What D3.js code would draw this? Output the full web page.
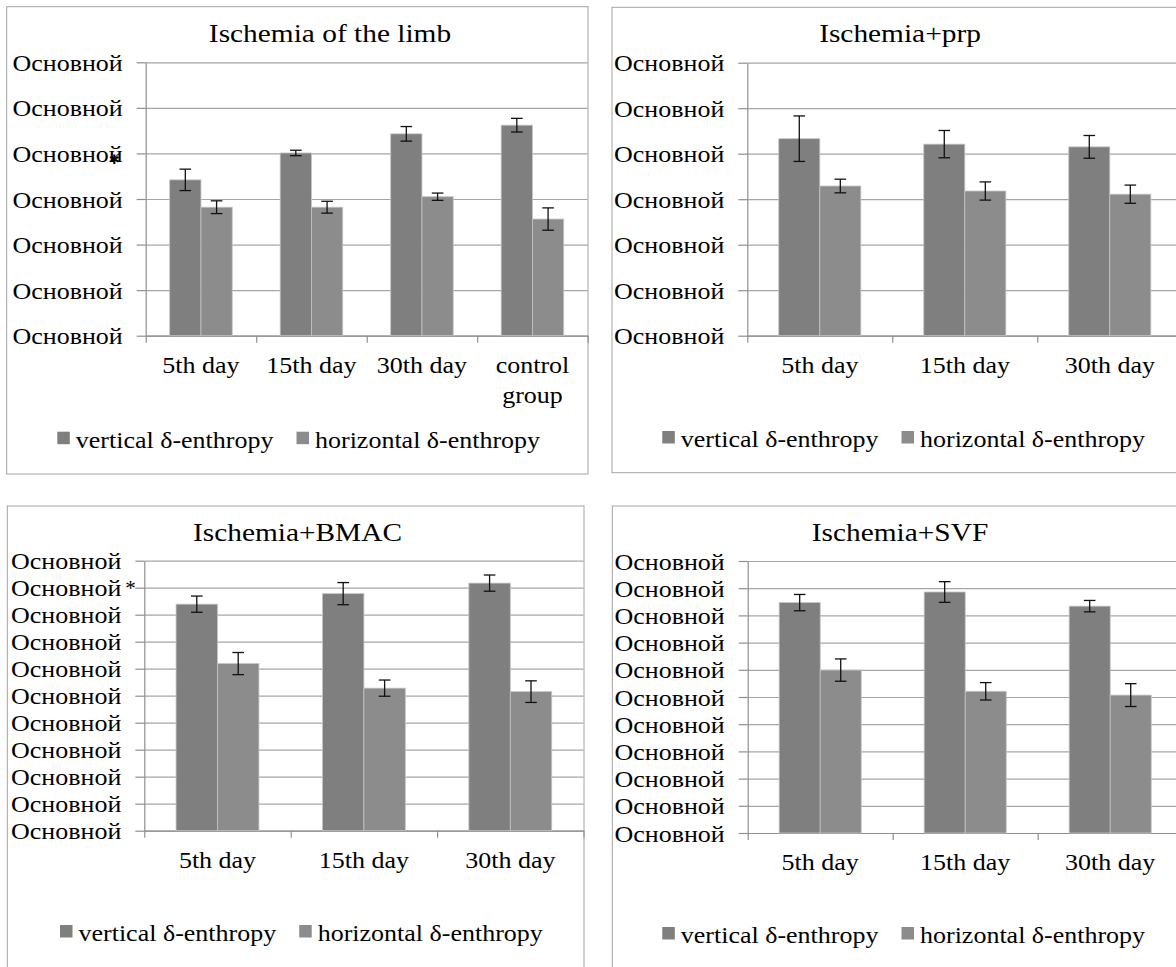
<!DOCTYPE html>
<html><head><meta charset="utf-8">
<script src="https://cdn.jsdelivr.net/npm/d3@7"></script>
<style>
body{margin:0;background:#fff}
svg{display:block}
</style>
</head><body>
<svg id="chart" width="1176" height="967"></svg>
<script>
// ---------- data ----------
const seriesNames = ["vertical δ-enthropy", "horizontal δ-enthropy"];
const yTickLabel = "Основной";
const categoriesLimb = ["5th day", "15th day", "30th day", "control group"];
const categoriesDays = ["5th day", "15th day", "30th day"];
const ticksSix = [0, 1, 2, 3, 4, 5, 6];
const ticksTen = [0, 1, 2, 3, 4, 5, 6, 7, 8, 9, 10];
const titles = ["Ischemia of the limb", "Ischemia+prp", "Ischemia+BMAC", "Ischemia+SVF"];

const limbVertical = [3.42, 4.01, 4.43, 4.62];
const limbVerticalErr = [0.235, 0.06, 0.16, 0.15];
const limbHorizontal = [2.82, 2.82, 3.05, 2.56];
const limbHorizontalErr = [0.14, 0.13, 0.08, 0.245];

const prpVertical = [4.33, 4.21, 4.15];
const prpVerticalErr = [0.5, 0.3, 0.25];
const prpHorizontal = [3.29, 3.18, 3.11];
const prpHorizontalErr = [0.15, 0.2, 0.2];

const bmacVertical = [8.39, 8.78, 9.17];
const bmacVerticalErr = [0.3, 0.41, 0.3];
const bmacHorizontal = [6.19, 5.28, 5.15];
const bmacHorizontalErr = [0.41, 0.3, 0.4];

const svfVertical = [8.47, 8.86, 8.34];
const svfVerticalErr = [0.3, 0.38, 0.21];
const svfHorizontal = [5.99, 5.21, 5.07];
const svfHorizontalErr = [0.41, 0.32, 0.42];

// ---------- style ----------
const FONT = "'Liberation Serif', 'Times New Roman', Times, 'DejaVu Serif', serif";
const SX = 1.13;             // horizontal text stretch seen in the reference
const FS = 23, TFS = 26;
const COLORS = ["#7f7f7f", "#8c8c8c"];
const GRID = "#a6a6a6", AXIS = "#8f8f8f", BORDER = "#a3a3a3";

const svg = d3.select("#chart");

const panels = [
  {title: titles[0], cats: categoriesLimb, ticks: ticksSix, vals: [limbVertical, limbHorizontal], errs: [limbVerticalErr, limbHorizontalErr],
   box: [6.7, 6.7, 588, 474], x0: 145.7, x1: 587.7, yb: 335.7, yt: 62.3, titleX: 330, titleY: 42.3, labelY: 373, legX: 57.3, legY: 447.7,
   star: {x: 114.5, y: 159, text: "✱", size: 13, font: "'DejaVu Sans'"}},
  {title: titles[1], cats: categoriesDays, ticks: ticksSix, vals: [prpVertical, prpHorizontal], errs: [prpVerticalErr, prpHorizontalErr],
   box: [612, 7.3, 1195, 472.7], x0: 747.3, x1: 1182.3, yb: 335.7, yt: 62.7, titleX: 900, titleY: 42.3, labelY: 373, legX: 662.3, legY: 447},
  {title: titles[2], cats: categoriesDays, ticks: ticksTen, vals: [bmacVertical, bmacHorizontal], errs: [bmacVerticalErr, bmacHorizontalErr],
   box: [7.3, 506, 584, 1000], x0: 144.3, x1: 583.5, yb: 830.7, yt: 560.7, titleX: 297.5, titleY: 540.7, labelY: 868, legX: 60, legY: 941,
   star: {x: 130.5, y: 595, text: "*", size: 21, font: FONT}},
  {title: titles[3], cats: categoriesDays, ticks: ticksTen, vals: [svfVertical, svfHorizontal], errs: [svfVerticalErr, svfHorizontalErr],
   box: [612.3, 506, 1195, 1000], x0: 747.7, x1: 1182.7, yb: 833, yt: 561, titleX: 900, titleY: 541, labelY: 870, legX: 662.3, legY: 943}
];

function txt(sel, size) {
  return sel.append("text").style("font-family", FONT).style("font-size", size + "px").attr("fill", "#000");
}
function measure(s, size) {
  const t = txt(svg, size).text(s);
  const w = t.node().getComputedTextLength();
  t.remove();
  return w * SX;
}

panels.forEach(p => {
  const g = svg.append("g");
  const [bx0, by0, bx1, by1] = p.box;
  g.append("rect").attr("x", bx0).attr("y", by0).attr("width", bx1 - bx0).attr("height", by1 - by0)
    .attr("fill", "#fff").attr("stroke", BORDER).attr("stroke-width", 1);

  const n = p.cats.length;
  const x = d3.scaleBand().domain(p.cats).range([p.x0, p.x1]).paddingInner(0.434).paddingOuter(0.217);
  const xs = d3.scaleBand().domain(seriesNames).range([0, x.bandwidth()]);
  const y = d3.scaleLinear().domain([0, d3.max(p.ticks)]).range([p.yb, p.yt]);
  const xb = d3.scaleLinear().domain([0, n]).range([p.x0, p.x1]);

  // gridlines
  const grid = g.append("g").attr("transform", `translate(${p.x0},0)`)
    .call(d3.axisLeft(y).tickValues(p.ticks).tickSize(-(p.x1 - p.x0)).tickSizeOuter(0).tickFormat(""));
  grid.select(".domain").remove();
  grid.selectAll("line").attr("stroke", GRID).attr("stroke-width", 1.2);

  // y axis
  const ya = g.append("g").attr("transform", `translate(${p.x0},0)`)
    .call(d3.axisLeft(y).tickValues(p.ticks).tickSize(9).tickSizeOuter(0).tickFormat(() => yTickLabel));
  ya.select(".domain").attr("stroke", AXIS).attr("stroke-width", 1.2);
  ya.selectAll(".tick line").attr("stroke", AXIS).attr("stroke-width", 1.2);
  ya.selectAll(".tick text").attr("x", null).attr("dy", null)
    .style("font-family", FONT).style("font-size", FS + "px").attr("fill", "#000")
    .attr("transform", `translate(-23,8) scale(${SX},1)`);

  // x axis (category boundary ticks)
  const xa = g.append("g").attr("transform", `translate(0,${p.yb})`)
    .call(d3.axisBottom(xb).tickValues(d3.range(n + 1)).tickSize(7).tickSizeOuter(0).tickFormat(""));
  xa.select(".domain").attr("stroke", AXIS).attr("stroke-width", 1.2);
  xa.selectAll(".tick line").attr("stroke", AXIS).attr("stroke-width", 1.2);

  // bars
  seriesNames.forEach((s, si) => {
    g.append("g").selectAll("rect").data(p.cats).join("rect")
      .attr("x", d => x(d) + xs(s))
      .attr("y", (d, i) => y(p.vals[si][i]))
      .attr("width", xs.bandwidth())
      .attr("height", (d, i) => y(0) - y(p.vals[si][i]))
      .attr("fill", COLORS[si])
      .attr("stroke", "#c4c4c4").attr("stroke-width", 0.8);
  });

  // error bars
  seriesNames.forEach((s, si) => {
    const eg = g.append("g").attr("stroke", "#111").attr("stroke-width", 1.3);
    p.cats.forEach((c, i) => {
      const cx = x(c) + xs(s) + xs.bandwidth() / 2;
      const v = p.vals[si][i], e = p.errs[si][i];
      const ytop = y(v + e), ybot = y(v - e);
      eg.append("line").attr("x1", cx).attr("x2", cx).attr("y1", ytop).attr("y2", ybot);
      eg.append("line").attr("x1", cx - 5.8).attr("x2", cx + 5.8).attr("y1", ytop).attr("y2", ytop);
      eg.append("line").attr("x1", cx - 5.8).attr("x2", cx + 5.8).attr("y1", ybot).attr("y2", ybot);
    });
  });

  // category labels
  p.cats.forEach(c => {
    const cx = x(c) + x.bandwidth() / 2;
    let lines = [c];
    if (measure(c, FS) > x.step() - 4) lines = c.split(" ");
    const t = txt(g, FS).attr("text-anchor", "middle")
      .attr("transform", `translate(${cx},${p.labelY}) scale(${SX},1)`);
    lines.forEach((l, li) => t.append("tspan").attr("x", 0).attr("y", li * 30).text(l));
  });

  // title
  txt(g, TFS).attr("text-anchor", "middle")
    .attr("transform", `translate(${p.titleX},${p.titleY}) scale(${SX},1)`).text(p.title);

  // legend
  let lx = p.legX;
  seriesNames.forEach((s, si) => {
    g.append("rect").attr("x", lx).attr("y", p.legY - 16).attr("width", 12.5).attr("height", 12.5).attr("fill", COLORS[si]);
    lx += 12.5 + 6;
    txt(g, FS).attr("transform", `translate(${lx},${p.legY}) scale(${SX},1)`).text(s);
    lx += measure(s, FS) + 23;
  });

  // significance marks
  if (p.star) {
    const st = g.append("text").style("font-family", p.star.font).style("font-size", p.star.size + "px")
      .attr("text-anchor", "middle").attr("fill", "#000")
      .attr("x", p.star.x).attr("y", p.star.y).text(p.star.text);
    if (p.star.text === "✱") st.attr("dominant-baseline", "central");
  }
});
</script>
</body></html>
